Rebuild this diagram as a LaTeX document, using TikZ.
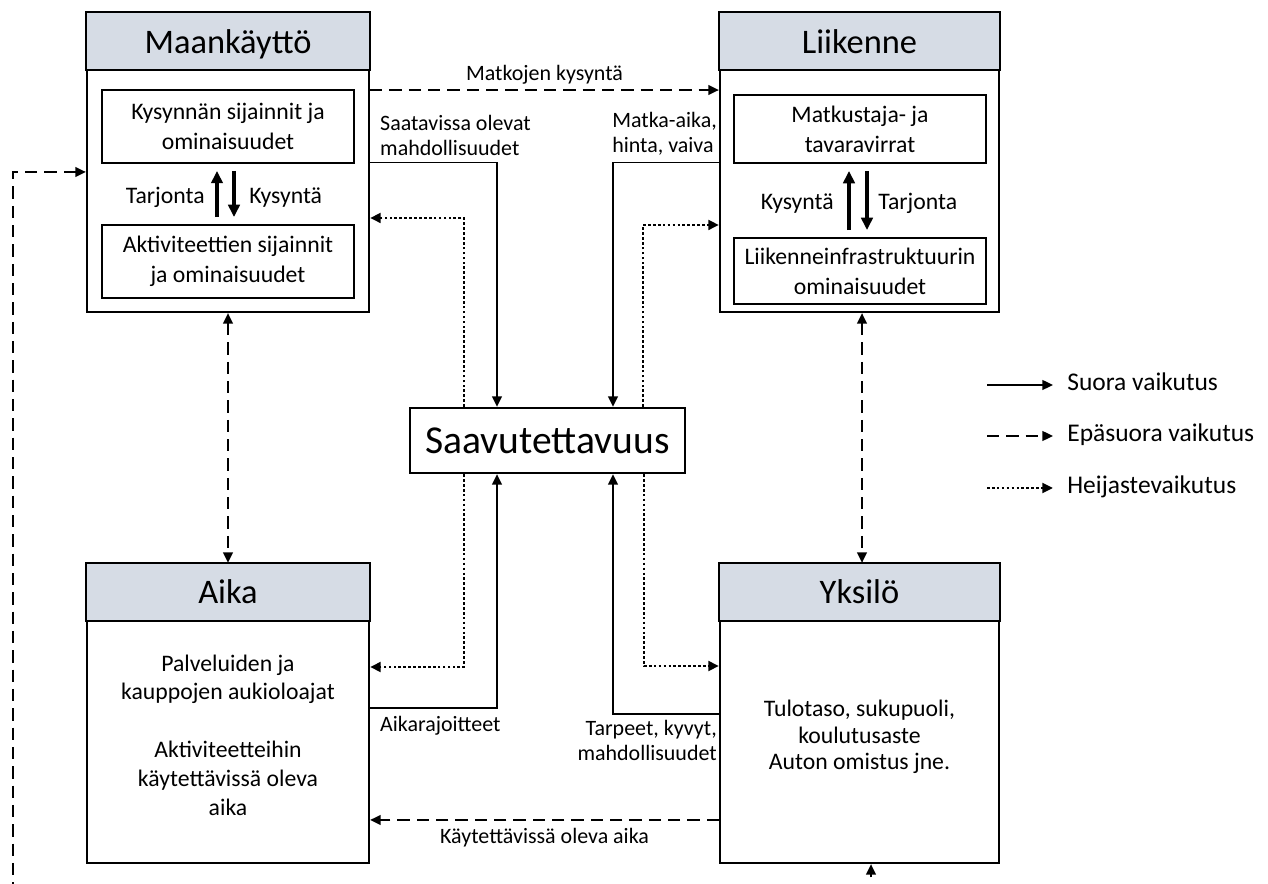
\documentclass[tikz,border=0pt]{standalone}
\usepackage{fontspec}
\setmainfont{Carlito}
\usetikzlibrary{arrows.meta}

\newcommand{\titlefont}{\fontsize{19.6}{22}\selectfont}
\newcommand{\bigfont}{\fontsize{22.5}{26}\selectfont}
\newcommand{\bodyfont}{\fontsize{13.5}{16.4}\selectfont}
\newcommand{\lblfont}{\fontsize{12.5}{14.2}\selectfont}
\newcommand{\legfont}{\fontsize{14.5}{17}\selectfont}

\begin{document}
\begin{tikzpicture}[x=0.02cm, y=-0.02cm,
    >={Triangle[length=6pt,width=5.5pt]},
    box/.style={draw, line width=1.3pt, inner sep=0pt},
    header/.style={draw, line width=1.3pt, fill=headfill},
    title/.style={font=\titlefont, inner sep=0pt, anchor=base},
    innerbox/.style={draw, line width=1.1pt, minimum width=5.04cm, align=center, font=\fontsize{13.5}{17.2}\selectfont},
    bodytext/.style={align=center, font=\bodyfont},
    lbl/.style={font=\lblfont, align=left, inner sep=1pt},
    direct/.style={->, line width=1.1pt},
    indirect/.style={->, line width=1.1pt, dash pattern=on 7pt off 4pt},
    reflect/.style={->, line width=1.6pt, dash pattern=on 1.5pt off 1.3pt},
    flow/.style={-{Triangle[length=7pt,width=6.5pt]}, line width=2.3pt}
]
    % Define colors
    \definecolor{headfill}{RGB}{214, 220, 229}

    \useasboundingbox (0,0) rectangle (1268,884);
    \clip (0,0) rectangle (1268,884);

    % Main boxes
    \node[box, minimum width=5.64cm, minimum height=5.98cm] (maa) at (228,162.5) {};
    \node[box, minimum width=5.58cm, minimum height=5.98cm] (lii) at (859.5,162.5) {};
    \node[box, minimum width=5.64cm, minimum height=5.98cm] (aika) at (228,713.5) {};
    \node[box, minimum width=5.58cm, minimum height=5.98cm] (yks) at (859.5,713.5) {};
    \node[box, minimum width=5.5cm, minimum height=1.3cm, font=\bigfont] (saa) at (547.5,440.5) {Saavutettavuus};

    % Header bands
    \draw[header] (maa.north west) rectangle ([yshift=-1.16cm]maa.north east);
    \draw[header] (lii.north west) rectangle ([yshift=-1.16cm]lii.north east);
    \draw[header] (aika.north west) rectangle ([yshift=-1.16cm]aika.north east);
    \draw[header] (yks.north west) rectangle ([yshift=-1.16cm]yks.north east);

    \node[title] (maat) at (228,54) {Maankäyttö};
    \node[title] (liit) at (859.5,54) {Liikenne};
    \node[title] (aikat) at (228,604) {Aika};
    \node[title] (ykst) at (859.5,604) {Yksilö};

    % Maankäyttö contents
    \node[innerbox, minimum height=1.46cm] (kys) at (228,126.5) {Kysynnän sijainnit ja\\ominaisuudet};
    \node[innerbox, minimum height=1.46cm] (akt) at (228,261.5) {Aktiviteettien sijainnit\\ja ominaisuudet};
    \draw[flow] ([xshift=-0.22cm,yshift=0.14cm]akt.north) -- ([xshift=-0.22cm,yshift=-0.14cm]kys.south);
    \draw[flow] ([xshift=0.12cm,yshift=-0.14cm]kys.south) -- ([xshift=0.12cm,yshift=0.14cm]akt.north);
    \node[bodytext, anchor=base east, inner sep=0pt] (tarj1) at (205,204) {Tarjonta};
    \node[bodytext, anchor=base west, inner sep=0pt] (kysy1) at (249,204) {Kysyntä};

    % Liikenne contents
    \node[innerbox, minimum height=1.36cm] (virr) at (860,129) {Matkustaja- ja\\tavaravirrat};
    \node[innerbox, minimum height=1.32cm] (infra) at (860,271) {Liikenneinfrastruktuurin\\ominaisuudet};
    \draw[flow] ([xshift=-0.22cm,yshift=0.14cm]infra.north) -- ([xshift=-0.22cm,yshift=-0.14cm]virr.south);
    \draw[flow] ([xshift=0.14cm,yshift=-0.14cm]virr.south) -- ([xshift=0.14cm,yshift=0.14cm]infra.north);
    \node[bodytext, anchor=base east, inner sep=0pt] (kysy2) at (834,210) {Kysyntä};
    \node[bodytext, anchor=base west, inner sep=0pt] (tarj2) at (878,210) {Tarjonta};

    % Aika and Yksilö contents
    \node[bodytext] (aikab) at (228,735) {Palveluiden ja\\kauppojen aukioloajat\\[16.4pt]Aktiviteetteihin\\käytettävissä oleva\\aika};
    \node[bodytext, font=\fontsize{13.5}{15}\selectfont] (yksb) at (859.5,737) {Tulotaso, sukupuoli,\\koulutusaste\\Auton omistus jne.};

    % Connectors to Saavutettavuus
    \draw[indirect] ([yshift=1.45cm]maa.east) -- node[lbl, above, inner sep=3pt] (matk) {Matkojen kysyntä} ([yshift=1.45cm]lii.east -| lii.west);
    \draw[direct] (maa.east) -| ([xshift=-1.01cm]saa.north);
    \draw[direct] (lii.west) -| ([xshift=1.31cm]saa.north);
    \draw[reflect] ([xshift=-1.67cm]saa.north) |- ([yshift=-1.11cm]maa.east);
    \draw[reflect] ([xshift=1.91cm]saa.north) |- ([yshift=-1.25cm]lii.west);
    \node[lbl, anchor=south west] (saat) at ([xshift=0.16cm,yshift=0.1cm]maa.east) {Saatavissa olevat\\mahdollisuudet};
    \node[lbl, anchor=south east] (mata) at ([yshift=0.1cm]lii.west) {Matka-aika,\\hinta, vaiva};

    \draw[reflect] ([xshift=-1.67cm]saa.south) |- ([yshift=0.93cm]aika.east);
    \draw[direct] ([yshift=0.11cm]aika.east) -| ([xshift=-1.01cm]saa.south);
    \draw[direct] ([yshift=-0.01cm]yks.west) -| ([xshift=1.31cm]saa.south);
    \draw[reflect] ([xshift=1.93cm]saa.south) |- ([yshift=0.95cm]yks.west);
    \node[lbl, anchor=north west] (aikr) at ([xshift=0.16cm,yshift=-0.02cm]aika.east) {Aikarajoitteet};
    \node[lbl, anchor=north east, align=right] (tarp) at ([yshift=-0.1cm]yks.west) {Tarpeet, kyvyt,\\mahdollisuudet};
    \draw[indirect] ([yshift=-2.13cm]yks.west) -- node[lbl, below, inner sep=4pt] (kayt) {Käytettävissä oleva aika} ([yshift=-2.13cm]aika.east);

    % Vertical links
    \draw[indirect, <->] (maa.south) -- (aika.north);
    \draw[indirect, <->] ([xshift=0.05cm]lii.south) -- ([xshift=0.05cm]yks.north);
    \coordinate (loopl) at (13,905);
    \draw[indirect, <->] ([yshift=-0.19cm]maa.west) -| (loopl) -| ([xshift=0.23cm]yks.south);

    % Legend
    \coordinate (leg1s) at (987,385);
    \coordinate (leg2s) at (987,436);
    \coordinate (leg3s) at (987,488);
    \node[font=\legfont, anchor=base west, inner sep=0pt] (leg1) at (1067,391) {Suora vaikutus};
    \node[font=\legfont, anchor=base west, inner sep=0pt] (leg2) at (1067,442) {Epäsuora vaikutus};
    \node[font=\legfont, anchor=base west, inner sep=0pt] (leg3) at (1067,494) {Heijastevaikutus};
    \draw[direct] (leg1s) -- (leg1s -| 1053,0);
    \draw[indirect] (leg2s) -- (leg2s -| 1053,0);
    \draw[reflect] (leg3s) -- (leg3s -| 1053,0);
\end{tikzpicture}
\end{document}
